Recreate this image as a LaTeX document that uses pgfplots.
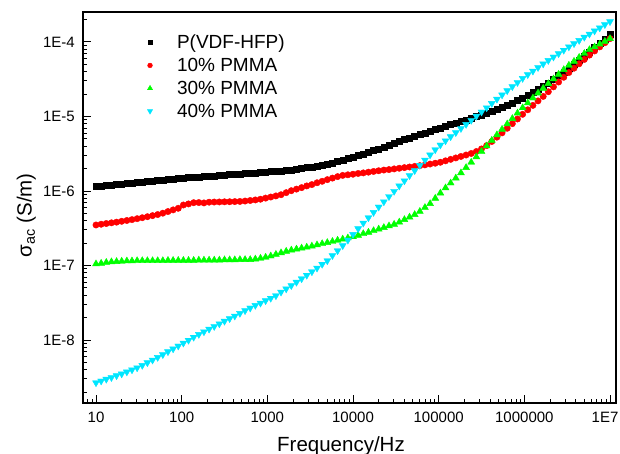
\documentclass[border=0pt]{standalone}
\usepackage{pgfplots}
\pgfplotsset{compat=1.18}
\usepackage{pgfplotstable}
\usepackage{fontspec}
\setmainfont{Liberation Sans}
\definecolor{cgreen}{RGB}{0,255,0}
\definecolor{ccyan}{RGB}{0,230,255}
\definecolor{cred}{RGB}{255,0,0}

\pgfplotstableread{
f b r g c
10 1.15e-6 3.50e-7 1.05e-7 2.67e-9
11.48 1.16e-6 3.58e-7 1.07e-7 2.82e-9
13.18 1.18e-6 3.66e-7 1.10e-7 2.98e-9
15.14 1.20e-6 3.74e-7 1.12e-7 3.14e-9
17.38 1.22e-6 3.82e-7 1.13e-7 3.32e-9
19.95 1.24e-6 3.92e-7 1.14e-7 3.51e-9
22.91 1.26e-6 4.02e-7 1.15e-7 3.73e-9
26.30 1.28e-6 4.13e-7 1.15e-7 3.98e-9
30.20 1.31e-6 4.25e-7 1.16e-7 4.24e-9
34.67 1.32e-6 4.38e-7 1.16e-7 4.57e-9
39.81 1.35e-6 4.52e-7 1.16e-7 4.96e-9
45.71 1.37e-6 4.67e-7 1.16e-7 5.39e-9
52.48 1.39e-6 4.83e-7 1.16e-7 5.85e-9
60.26 1.41e-6 5.04e-7 1.16e-7 6.37e-9
69.18 1.43e-6 5.30e-7 1.17e-7 6.97e-9
79.43 1.46e-6 5.58e-7 1.17e-7 7.61e-9
91.20 1.48e-6 5.86e-7 1.17e-7 8.32e-9
104.7 1.50e-6 6.49e-7 1.17e-7 9.10e-9
120.2 1.52e-6 6.71e-7 1.17e-7 9.94e-9
138.0 1.53e-6 6.97e-7 1.17e-7 1.09e-8
158.5 1.55e-6 7.00e-7 1.18e-7 1.19e-8
182.0 1.57e-6 6.92e-7 1.18e-7 1.29e-8
208.9 1.58e-6 7.08e-7 1.18e-7 1.40e-8
239.9 1.60e-6 7.11e-7 1.18e-7 1.52e-8
275.4 1.62e-6 7.13e-7 1.18e-7 1.65e-8
316.2 1.64e-6 7.16e-7 1.19e-7 1.79e-8
363.1 1.66e-6 7.18e-7 1.19e-7 1.94e-8
416.9 1.67e-6 7.21e-7 1.19e-7 2.10e-8
478.6 1.69e-6 7.24e-7 1.20e-7 2.28e-8
549.5 1.71e-6 7.33e-7 1.20e-7 2.48e-8
631.0 1.73e-6 7.46e-7 1.20e-7 2.69e-8
724.4 1.75e-6 7.59e-7 1.22e-7 2.92e-8
831.8 1.77e-6 7.76e-7 1.25e-7 3.13e-8
955.0 1.79e-6 8.03e-7 1.29e-7 3.38e-8
1096 1.82e-6 8.30e-7 1.34e-7 3.64e-8
1259 1.84e-6 8.59e-7 1.41e-7 3.93e-8
1445 1.87e-6 8.92e-7 1.48e-7 4.40e-8
1660 1.89e-6 9.50e-7 1.55e-7 4.86e-8
1905 1.92e-6 1.01e-6 1.61e-7 5.38e-8
2188 1.96e-6 1.06e-6 1.66e-7 5.97e-8
2512 2.01e-6 1.11e-6 1.71e-7 6.65e-8
2884 2.06e-6 1.17e-6 1.76e-7 7.40e-8
3311 2.11e-6 1.22e-6 1.82e-7 8.25e-8
3802 2.16e-6 1.29e-6 1.89e-7 9.25e-8
4365 2.21e-6 1.35e-6 1.96e-7 1.04e-7
5012 2.26e-6 1.42e-6 2.03e-7 1.16e-7
5754 2.37e-6 1.49e-6 2.10e-7 1.36e-7
6607 2.48e-6 1.56e-6 2.18e-7 1.58e-7
7586 2.60e-6 1.62e-6 2.26e-7 1.85e-7
8710 2.72e-6 1.65e-6 2.34e-7 2.19e-7
10000 2.85e-6 1.68e-6 2.43e-7 2.62e-7
11480 3.00e-6 1.72e-6 2.54e-7 3.12e-7
13180 3.15e-6 1.75e-6 2.67e-7 3.71e-7
15140 3.31e-6 1.79e-6 2.79e-7 4.38e-7
17380 3.48e-6 1.83e-6 2.93e-7 5.16e-7
19950 3.68e-6 1.87e-6 3.08e-7 6.10e-7
22910 3.90e-6 1.91e-6 3.23e-7 7.17e-7
26300 4.12e-6 1.94e-6 3.40e-7 8.43e-7
30200 4.37e-6 1.98e-6 3.57e-7 9.92e-7
34670 4.62e-6 2.02e-6 3.82e-7 1.17e-6
39810 4.90e-6 2.06e-6 4.13e-7 1.37e-6
45710 5.16e-6 2.10e-6 4.46e-7 1.61e-6
52480 5.44e-6 2.14e-6 4.82e-7 1.88e-6
60260 5.73e-6 2.19e-6 5.32e-7 2.21e-6
69180 6.03e-6 2.24e-6 6.00e-7 2.60e-6
79430 6.35e-6 2.30e-6 6.76e-7 3.05e-6
91200 6.68e-6 2.36e-6 7.98e-7 3.58e-6
104700 7.04e-6 2.43e-6 9.38e-7 4.15e-6
120200 7.39e-6 2.54e-6 1.10e-6 4.72e-6
138000 7.77e-6 2.66e-6 1.28e-6 5.36e-6
158500 8.17e-6 2.78e-6 1.49e-6 6.08e-6
182000 8.58e-6 2.91e-6 1.75e-6 6.91e-6
208900 9.02e-6 3.04e-6 2.06e-6 7.84e-6
239900 9.48e-6 3.19e-6 2.43e-6 8.90e-6
275400 1.00e-5 3.39e-6 2.87e-6 1.01e-5
316200 1.05e-5 3.67e-6 3.39e-6 1.15e-5
363100 1.11e-5 4.07e-6 4.02e-6 1.31e-5
416900 1.17e-5 4.62e-6 4.78e-6 1.50e-5
478600 1.24e-5 5.28e-6 5.67e-6 1.71e-5
549500 1.32e-5 6.03e-6 6.72e-6 1.95e-5
631000 1.42e-5 6.95e-6 7.94e-6 2.22e-5
724400 1.52e-5 8.02e-6 9.38e-6 2.52e-5
831800 1.63e-5 9.26e-6 1.11e-5 2.86e-5
955000 1.77e-5 1.07e-5 1.31e-5 3.25e-5
1096000 1.93e-5 1.23e-5 1.52e-5 3.65e-5
1259000 2.11e-5 1.41e-5 1.77e-5 4.07e-5
1445000 2.30e-5 1.62e-5 2.06e-5 4.55e-5
1660000 2.55e-5 1.86e-5 2.39e-5 5.08e-5
1905000 2.83e-5 2.15e-5 2.76e-5 5.66e-5
2188000 3.16e-5 2.50e-5 3.19e-5 6.29e-5
2512000 3.54e-5 2.90e-5 3.68e-5 6.98e-5
2884000 3.97e-5 3.36e-5 4.25e-5 7.76e-5
3311000 4.46e-5 3.89e-5 4.87e-5 8.60e-5
3802000 5.01e-5 4.45e-5 5.50e-5 9.50e-5
4365000 5.62e-5 5.10e-5 6.21e-5 1.05e-4
5012000 6.41e-5 5.83e-5 7.01e-5 1.16e-4
5754000 7.34e-5 6.67e-5 7.87e-5 1.28e-4
6607000 8.40e-5 7.58e-5 8.58e-5 1.41e-4
7586000 9.62e-5 8.60e-5 9.35e-5 1.55e-4
8710000 1.10e-4 9.77e-5 1.02e-4 1.71e-4
10000000 1.27e-4 1.11e-4 1.11e-4 1.88e-4
}\datatable

\begin{document}
\begin{tikzpicture}
\useasboundingbox (-83pt,-51pt) rectangle (537pt,403pt);
\begin{axis}[
  at={(0pt,0pt)}, anchor=south west,
  scale only axis, width=533pt, height=391pt,
  xmode=log, ymode=log,
  xmin=7.05, xmax=1.175e7, ymin=1.427e-9, ymax=2.527e-4,
  axis line style={line width=1.2pt, black},
  tick align=inside, tick pos=left,
  major tick length=8pt, minor tick length=4pt,
  every tick/.style={black, line width=1pt},
  xtick={10,100,1000,10000,100000,1000000,10000000},
  xticklabels={10,100,1000,10000,100000,1000000,\makebox[0pt]{\hspace{-10pt}1E7}},
  ytick={1e-8,1e-7,1e-6,1e-5,1e-4},
  yticklabels={1E-8,1E-7,1E-6,1E-5,1E-4},
  minor xtick={8,9,20,30,40,50,60,70,80,90,200,300,400,500,600,700,800,900,2000,3000,4000,5000,6000,7000,8000,9000,2e4,3e4,4e4,5e4,6e4,7e4,8e4,9e4,2e5,3e5,4e5,5e5,6e5,7e5,8e5,9e5,2e6,3e6,4e6,5e6,6e6,7e6,8e6,9e6},
  minor ytick={2e-9,3e-9,4e-9,5e-9,6e-9,7e-9,8e-9,9e-9,2e-8,3e-8,4e-8,5e-8,6e-8,7e-8,8e-8,9e-8,2e-7,3e-7,4e-7,5e-7,6e-7,7e-7,8e-7,9e-7,2e-6,3e-6,4e-6,5e-6,6e-6,7e-6,8e-6,9e-6,2e-5,3e-5,4e-5,5e-5,6e-5,7e-5,8e-5,9e-5,2e-4},
  xticklabel style={font=\fontsize{15}{18}\selectfont, inner sep=0pt, anchor=north, yshift=-8.5pt},
  yticklabel style={font=\fontsize{15}{18}\selectfont, inner sep=0pt, anchor=east, xshift=-8pt},
  xlabel={Frequency/Hz},
  ylabel={σ\textsubscript{ac} (S/m)},
  xlabel style={font=\fontsize{20.5}{24}\selectfont, inner sep=0pt, at={(axis description cs:0.484,-0.1228)}, anchor=base},
  ylabel style={font=\fontsize{20.5}{24}\selectfont, inner sep=0pt, at={(axis description cs:-0.088,0.48)}, anchor=south},
  legend style={at={(0.1098,0.942)}, anchor=north west, draw=none, fill=none, inner sep=0pt, outer sep=0pt, row sep=8.1pt, column sep=18.5pt, font=\fontsize{19}{22}\selectfont, nodes={inner sep=0pt}},
  legend cell align=left,
  legend image code/.code={\path[draw=none, fill=none] (0pt,-7pt) rectangle (17pt,7pt); \draw[mark repeat=2, mark phase=2, #1, /tikz/every mark/.append style={scale=0.75}] plot coordinates {(0pt,0pt) (8.5pt,0pt) (17pt,0pt)};},
]
\addplot[only marks, mark=square*, mark size=3pt, black] table[x=f,y=b]{\datatable};
\addlegendentry{P(VDF-HFP)}
\addplot[only marks, mark=*, mark size=3.2pt, cred] table[x=f,y=r]{\datatable};
\addlegendentry{10\% PMMA}
\addplot[only marks, mark=triangle*, mark size=4pt, cgreen] table[x=f,y=g]{\datatable};
\addlegendentry{30\% PMMA}
\addplot[only marks, mark=triangle*, mark size=4pt, mark options={rotate=180}, ccyan] table[x=f,y=c]{\datatable};
\addlegendentry{40\% PMMA}
\end{axis}
\end{tikzpicture}
\end{document}
